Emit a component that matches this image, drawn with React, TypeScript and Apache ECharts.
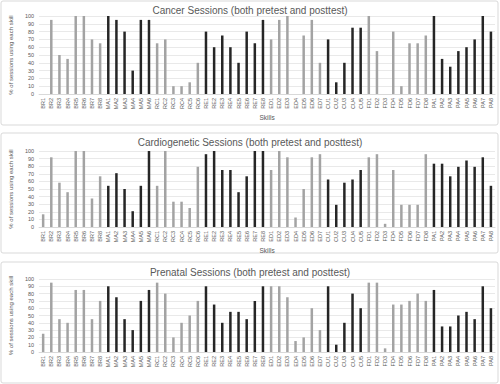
import React, { useEffect, useRef } from "react";
import * as echarts from "echarts";

const skills = [
  "BR1","BR2","BR3","BR4","BR5","BR6","BR7","BR8",
  "MA1","MA2","MA3","MA4","MA5","MA6",
  "RC1","RC2","RC3","RC4","RC5","RC6",
  "RE1","RE2","RE3","RE4","RE5","RE6","RE7","RE8",
  "ED1","ED2","ED3","ED4","ED5","ED6","ED7",
  "CU1","CU2","CU3","CU4","CU5",
  "FD1","FD2","FD3","FD4","FD5","FD6","FD7","FD8",
  "PA1","PA2","PA3","PA4","PA5","PA6","PA7","PA8",
];
const darkGroups = ["MA", "RE", "CU", "PA"];

const cancer = [
  0,95,50,45,100,100,70,65,
  100,95,80,30,95,95,
  65,70,10,10,15,40,
  80,60,75,60,40,80,65,95,
  70,95,100,0,75,95,40,
  70,15,40,85,85,
  100,55,0,80,10,65,65,75,
  100,45,35,55,60,70,100,80,
];
const cardio = [
  16.7,91.7,58.3,45.8,100,100,37.5,66.7,
  54.2,70.8,50,20.8,54.2,100,
  54.2,100,33.3,33.3,25,79.2,
  95.8,100,75,75,45.8,66.7,100,100,
  75,100,91.7,12.5,50,91.7,95.8,
  62.5,29.2,58.3,62.5,75,
  91.7,95.8,4.2,75,29.2,29.2,29.2,95.8,
  83.3,83.3,66.7,79.2,87.5,79.2,91.7,54.2,
];
const prenatal = [
  25,95,45,40,85,85,45,70,
  90,75,45,30,70,85,
  95,80,20,40,50,70,
  90,65,40,55,55,45,70,90,
  90,90,75,15,20,60,30,
  90,10,40,80,60,
  95,95,5,65,65,70,80,70,
  85,35,35,50,55,45,90,60,
];
const titles = [
  "Cancer Sessions (both pretest and posttest)",
  "Cardiogenetic Sessions (both pretest and posttest)",
  "Prenatal Sessions (both pretest and posttest)",
];
const yTicks = [0, 10, 20, 30, 40, 50, 60, 70, 80, 90, 100];

export default function App() {
  const ref = useRef<HTMLDivElement>(null);
  useEffect(() => {
    if (!ref.current) return;
    const chart = echarts.init(ref.current, null, { renderer: "svg" });
    const layouts = [
      { top: 16, bottom: 94, titleTop: 4.5, box: [1, 1, 497, 124], showName: true },
      { top: 151, bottom: 227, titleTop: 136.5, box: [1, 133, 497, 120], showName: true },
      { top: 279, bottom: 352, titleTop: 266.5, box: [1, 262, 497, 121], showName: false },
    ];
    const datasets = [cancer, cardio, prenatal];
    const colorOf = (s: string) => (darkGroups.includes(s.slice(0, 2)) ? "#262626" : "#a3a3a3");
    chart.setOption({
      animation: false,
      backgroundColor: "#ffffff",
      graphic: layouts.map((l) => ({
        type: "rect",
        shape: { x: l.box[0], y: l.box[1], width: l.box[2], height: l.box[3], r: 2 },
        style: { fill: "none", stroke: "#d9d9d9", lineWidth: 1 },
        z: -1,
      })),
      title: layouts.map((l, i) => ({
        text: titles[i],
        left: "center",
        top: l.titleTop,
        padding: 0,
        textStyle: { fontSize: 10, lineHeight: 11, fontWeight: "normal", color: "#595959", fontFamily: "Liberation Sans" },
      })),
      grid: layouts.map((l) => ({ left: 27, right: 5, top: l.top, height: l.bottom - l.top })),
      xAxis: layouts.map((l, i) => ({
        type: "category",
        gridIndex: i,
        data: skills,
        name: l.showName ? "Skills" : "",
        nameLocation: "middle",
        nameGap: 20,
        nameTextStyle: { fontSize: 6.5, color: "#595959", fontFamily: "Liberation Sans" },
        axisLine: { lineStyle: { color: "#d9d9d9" } },
        axisTick: { show: false },
        axisLabel: { interval: 0, rotate: 90, fontSize: 5.5, color: "#595959", margin: 4, fontFamily: "Liberation Sans" },
      })),
      yAxis: layouts.map((l, i) => ({
        type: "value",
        gridIndex: i,
        min: yTicks[0],
        max: yTicks[yTicks.length - 1],
        interval: 10,
        name: "% of sessions using each skill",
        nameLocation: "middle",
        nameRotate: 90,
        nameGap: 18,
        nameTextStyle: { fontSize: 6, color: "#595959", fontFamily: "Liberation Sans" },
        axisLabel: { fontSize: 5.5, color: "#595959", margin: 5, fontFamily: "Liberation Sans" },
        splitLine: { lineStyle: { color: "#e3e3e3", width: 0.8 } },
        axisLine: { show: false },
        axisTick: { show: false },
      })),
      series: datasets.map((d, i) => ({
        type: "bar",
        xAxisIndex: i,
        yAxisIndex: i,
        barWidth: 2.5,
        data: d.map((v, j) => ({ value: v, itemStyle: { color: colorOf(skills[j]) } })),
      })),
    });
    return () => chart.dispose();
  }, []);
  return <div ref={ref} style={{ position: "fixed", left: 0, top: 0, width: 500, height: 384 }} />;
}
